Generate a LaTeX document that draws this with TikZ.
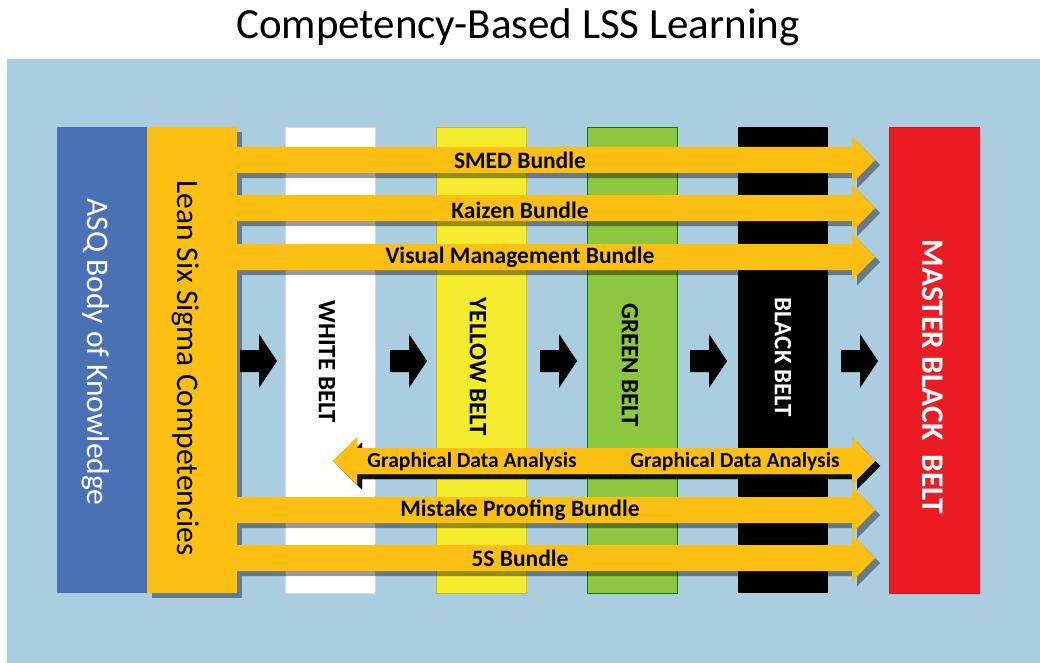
\documentclass[tikz,border=0pt]{standalone}
\usepackage{fontspec}
\setmainfont{Carlito}
\usetikzlibrary{calc, positioning}
\definecolor{bgblue}{HTML}{ABCDE0}
\definecolor{asqblue}{HTML}{4A70B6}
\definecolor{lssgold}{HTML}{FCBF12}
\definecolor{beltyellow}{HTML}{F5EC2E}
\definecolor{beltgreen}{HTML}{8DC63F}
\definecolor{masterred}{HTML}{ED1C24}
% block arrow: start x, tip x, centre y, head length
\newcommand{\bandpath}[4]{({#1},{#3-13}) -- ({#2-(#4)},{#3-13}) -- ({#2-(#4)},{#3-23.5}) -- ({#2},{#3}) -- ({#2-(#4)},{#3+23.5}) -- ({#2-(#4)},{#3+13}) -- ({#1},{#3+13}) -- cycle}
\newcommand{\bundle}[4]{%
  \fill[shade, shift={(5,5)}] \bandpath{#1}{#2}{#3}{#4};
  \fill[lssgold] \bandpath{#1}{#2}{#3}{#4};}
\tikzset{
  beltbox/.style={minimum width=90, minimum height=466, inner sep=0},
  shade/.style={black, opacity=.4},
  upright/.style={rotate=-90, font=\fontsize{31.5}{31.5}\selectfont},
  beltname/.style={rotate=-90, font=\fontsize{25}{25}\selectfont\bfseries},
  bundlename/.style={font=\fontsize{23.5}{23.5}\selectfont\bfseries}
}

\begin{document}
\begin{tikzpicture}[x=1pt, y=-1pt]
\useasboundingbox (0,0) rectangle (1040,663);
\node (title) at (518,27) {\fontsize{43}{43}\selectfont Competency-Based LSS Learning};
\fill[bgblue] (7,59) rectangle (1040,663);

% belts
\node[beltbox, fill=asqblue] (asq) at (102,360) {};
\fill[shade] (152,132) rectangle (242,598);
\node[beltbox, fill=white, draw=black!15] (white) at (330,360) {};
\node[beltbox, fill=beltyellow, draw=beltyellow!80!black] (yellow) at (481.5,360) {};
\node[beltbox, fill=beltgreen, draw=green!50!black] (green) at (632,360) {};
\node[beltbox, fill=black] (black) at (783,360) {};
\node[beltbox, fill=masterred, draw=masterred!85!black] (master) at (934.5,360) {};

% black steps between belts
\foreach \x in {240,390,540,690,841}
  \fill (\x,350) -- (\x+19,350) -- (\x+19,334) -- (\x+37,361) -- (\x+19,388) -- (\x+19,372) -- (\x,372) -- cycle;

% bundles
\foreach \y in {160,208,257,510,558} \bundle{237}{875}{\y}{23}
\bundle{605}{333}{461}{-24}
\bundle{605}{875}{461}{23}
\node[beltbox, fill=lssgold] (lss) at (192,360) {};

\node[upright, text=white] at (96,352) {ASQ Body of Knowledge};
\node[upright] at (186,368) {Lean Six Sigma Competencies};
\node[beltname] at (327,362) {WHITE BELT};
\node[beltname] at (478,367) {YELLOW BELT};
\node[beltname] at (630,365) {GREEN BELT};
\node[beltname, text=white] at (783,357) {BLACK BELT};
\node[beltname, text=white, font=\fontsize{31.5}{31.5}\selectfont\bfseries] at (933,377) {MASTER BLACK\ \ BELT};

\node[bundlename] at (520,160) {SMED Bundle};
\node[bundlename] at (520,210) {Kaizen Bundle};
\node[bundlename] at (520,257) {Visual Management Bundle};
\node[bundlename, font=\fontsize{21.5}{21.5}\selectfont\bfseries] at (472,462) {Graphical Data Analysis};
\node[bundlename, font=\fontsize{21.5}{21.5}\selectfont\bfseries] at (735,462) {Graphical Data Analysis};
\node[bundlename] at (520,510) {Mistake Proofing Bundle};
\node[bundlename] at (520,558) {5S Bundle};
\end{tikzpicture}
\end{document}
